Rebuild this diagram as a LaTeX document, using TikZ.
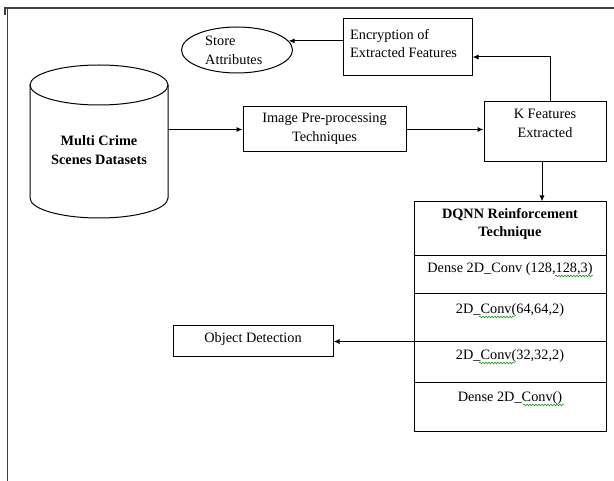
\documentclass[tikz,border=0pt]{standalone}
\usepackage{fontspec}
\setmainfont{Liberation Serif}
\usetikzlibrary{arrows.meta,shapes.geometric,decorations.pathmorphing}
\begin{document}
\begin{tikzpicture}[x=1pt,y=-1pt,
  box/.style={draw, line width=1pt, inner sep=0pt},
  lbl/.style={font=\fontsize{14.3}{18.5}\selectfont, align=center, inner sep=0pt},
  blbl/.style={lbl, font=\fontsize{14.3}{18.5}\selectfont\bfseries},
  ln/.style={line width=1pt},
  frame/.style={line width=1.2pt, draw=black!75},
  arr/.style={line width=1pt, -{Latex[length=6pt,width=5pt]}},
  squig/.style={draw=green!55!black, line width=0.5pt, decorate, decoration={snake, amplitude=0.9pt, segment length=3pt}}]
\useasboundingbox (0,0) rectangle (614,481);
% page frame
\draw[frame] (5,15) -- (5,8) -- (614,8);
\draw[frame] (7.5,8) -- (7.5,481);
% store attributes
\node[box, ellipse, minimum width=111, minimum height=46] (st) at (237,50) {};
\node[lbl, align=left, anchor=west] (stt) at (205,50.5) {Store\\Attributes};
% encryption
\node[box, minimum width=129, minimum height=57] (enc) at (407.5,47.5) {};
\node[lbl, align=left, anchor=west] (enct) at (350,43.5) {Encryption of\\Extracted Features};
% database cylinder
\node[minimum width=138, minimum height=153, inner sep=0pt] (db) at (99,141.5) {};
\draw[ln] (30,85) -- (30,198) arc[start angle=180, end angle=360, x radius=69pt, y radius=20pt] -- (168,85);
\draw[ln] (99,85) ellipse[x radius=69pt, y radius=20pt];
\node[blbl] (dbt) at (99,150) {Multi Crime\\Scenes Datasets};
% image preprocessing
\node[box, minimum width=163, minimum height=45] (img) at (324.5,129.5) {};
\node[lbl] (imgt) at (324.5,129) {Image Pre-processing\\Techniques};
% K features
\node[box, minimum width=122, minimum height=60] (k) at (545,132) {};
\node[lbl] (kt) at (545,123.5) {K Features\\Extracted};
% DQNN
\node[box, minimum width=192, minimum height=230] (dq) at (510,317) {};
\draw[ln] ([yshift=-54pt]dq.north west) -- ([yshift=-54pt]dq.north east);
\draw[ln] ([yshift=-92pt]dq.north west) -- ([yshift=-92pt]dq.north east);
\draw[ln] ([yshift=-181pt]dq.north west) -- ([yshift=-181pt]dq.north east);
\node[blbl] (dq1) at (510,224) {DQNN Reinforcement\\Technique};
\node[lbl] (dq2) at (510,269) {Dense 2D\_Conv (128,128,3)};
\node[lbl] (dq3) at (510,310) {2D\_Conv(64,64,2)};
\node[lbl] (dq4) at (510,356) {2D\_Conv(32,32,2)};
\node[lbl] (dq5) at (510,398) {Dense 2D\_Conv()};
\draw[squig] (555,276) -- (593,276);
\draw[squig] (479,317) -- (515,317);
\draw[squig] (479,363) -- (515,363);
\draw[squig] (523,405) -- (564,405);
% object detection
\node[box, minimum width=160, minimum height=31] (od) at (253,341.5) {};
\node[lbl] (odt) at (253,339) {Object Detection};
% connectors
\draw[arr] (enc.west |- st.10) -- (st.10);
\draw[arr] (img.west -| db.east) -- (img.west);
\draw[arr] (img.east) -- (img.east -| k.west);
\draw[arr] ([xshift=5pt]k.north) |- ([yshift=-9.5pt]enc.east);
\draw[arr] ([xshift=-3pt]k.south) -- ([xshift=-3pt]k.south |- dq.north);
\draw[arr] (dq.east |- od.east) -- (od.east);
\end{tikzpicture}
\end{document}
